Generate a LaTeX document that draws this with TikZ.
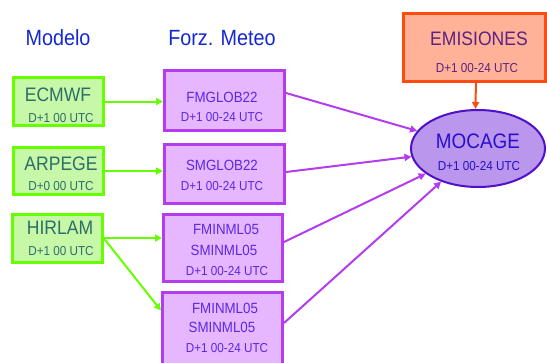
\documentclass[tikz,border=0pt]{standalone}
\usepackage{fontspec}
\setmainfont{Liberation Sans}[FakeStretch=0.9]
\usetikzlibrary{shapes.geometric,arrows.meta}
\definecolor{grB}{RGB}{102,255,0}
\definecolor{grF}{RGB}{198,248,168}
\definecolor{grT}{RGB}{45,110,105}
\definecolor{puB}{RGB}{180,60,240}
\definecolor{puF}{RGB}{230,182,255}
\definecolor{puT}{RGB}{90,40,225}
\definecolor{elF}{RGB}{186,150,236}
\definecolor{elB}{RGB}{80,15,200}
\definecolor{elT}{RGB}{40,15,205}
\definecolor{orF}{RGB}{255,178,152}
\definecolor{orB}{RGB}{255,75,15}
\definecolor{orT}{RGB}{90,35,130}
\definecolor{hdT}{RGB}{20,40,210}
\begin{document}
\begin{tikzpicture}[x=1pt,y=-1pt,
  greenbox/.style={draw=grB,fill=grF,line width=3pt,inner sep=0pt,minimum width=90pt},
  purplebox/.style={draw=puB,fill=puF,line width=3pt,inner sep=0pt,minimum width=120pt},
  txt/.style={anchor=base,inner sep=0pt},
  hdr/.style={txt,text=hdT,font=\fontsize{22}{26}\selectfont},
  gbig/.style={txt,text=grT,font=\fontsize{19.5}{23}\selectfont},
  gsmall/.style={txt,text=grT,font=\fontsize{13}{15}\selectfont},
  pbig/.style={txt,text=puT,font=\fontsize{14.8}{17}\selectfont},
  psmall/.style={txt,text=puT,font=\fontsize{13}{15}\selectfont},
  garrow/.style={draw=grB,line width=2pt,-{Triangle[length=7pt,width=7pt]}},
  parrow/.style={draw=puB,line width=2pt,-{Triangle[length=7pt,width=7pt]}},
  oarrow/.style={draw=orB,line width=2pt,-{Triangle[length=7pt,width=7pt]}}
]
\useasboundingbox (0,0) rectangle (547,362);
% headers
\node[hdr] (hmod) at (58,45) {Modelo};
\node[hdr] (hfor) at (222,45) {Forz. Meteo};
% green boxes
\node[greenbox,minimum height=48pt] (ecmwf) at (58.5,101.5) {};
\node[greenbox,minimum height=47pt] (arpege) at (58.5,171) {};
\node[greenbox,minimum height=48pt] (hirlam) at (57.5,238.5) {};
\node[gbig] (t1) at (58,101) {ECMWF};
\node[gsmall] (t2) at (61,122) {D+1 00 UTC};
\node[gbig] (t3) at (61,170) {ARPEGE};
\node[gsmall] (t4) at (61,190) {D+0 00 UTC};
\node[gbig] (t5) at (60,234) {HIRLAM};
\node[gsmall] (t6) at (61,255) {D+1 00 UTC};
% purple boxes
\node[purplebox,minimum height=60pt] (fmglob) at (224.5,100.5) {};
\node[purplebox,minimum height=59pt] (smglob) at (224.5,174) {};
\node[purplebox,minimum width=119pt,minimum height=67pt] (fmina) at (223,248) {};
\node[purplebox,minimum height=76pt] (fminb) at (222.5,330.5) {};
\node[pbig] (p1) at (222,102) {FMGLOB22};
\node[psmall] (p2) at (222,121) {D+1 00-24 UTC};
\node[pbig] (p3) at (222,170) {SMGLOB22};
\node[psmall] (p4) at (222,190) {D+1 00-24 UTC};
\node[pbig] (p5) at (226,234) {FMINML05};
\node[pbig] (p6) at (224,255) {SMINML05};
\node[psmall] (p7) at (227,275) {D+1 00-24 UTC};
\node[pbig] (p8) at (225,313) {FMINML05};
\node[pbig] (p9) at (222,332) {SMINML05};
\node[psmall] (p10) at (227,352) {D+1 00-24 UTC};
% emisiones
\node[draw=orB,fill=orF,line width=3pt,inner sep=0pt,minimum width=141.7pt,minimum height=68pt] (emis) at (474.4,47.5) {};
\node[txt,text=orT,font=\fontsize{19.5}{23}\selectfont] (e1) at (479,45) {EMISIONES};
\node[txt,text=orT,font=\fontsize{13}{15}\selectfont] (e2) at (477,72) {D+1 00-24 UTC};
% mocage
\node[ellipse,draw=elB,fill=elF,line width=2pt,inner sep=0pt,minimum width=134pt,minimum height=77pt] (mocage) at (478,148.5) {};
\node[txt,text=elT,font=\fontsize{21}{25}\selectfont] (m1) at (478,148) {MOCAGE};
\node[txt,text=elT,font=\fontsize{13}{15}\selectfont] (m2) at (479,170) {D+1 00-24 UTC};
% green arrows
\draw[garrow] (ecmwf.east) -- (fmglob.west |- ecmwf.east);
\draw[garrow] (arpege.east) -- (smglob.west |- arpege.east);
\draw[garrow] ([yshift=0.5pt]hirlam.east) -- (fmina.west |- 0,238);
\draw[garrow] (hirlam.east) -- ([yshift=20pt]fminb.west);
% purple arrows
\draw[parrow] ([yshift=7.5pt]fmglob.east) -- (mocage);
\draw[parrow] ([yshift=2pt]smglob.east) -- (mocage);
\draw[parrow] ([yshift=6pt]fmina.east) -- (mocage);
\draw[parrow] ([yshift=7.5pt]fminb.east) -- (mocage);
% orange arrow
\draw[oarrow] ([xshift=1.5pt]emis.south) -- ([xshift=-2.5pt]mocage.north);
\end{tikzpicture}
\end{document}
